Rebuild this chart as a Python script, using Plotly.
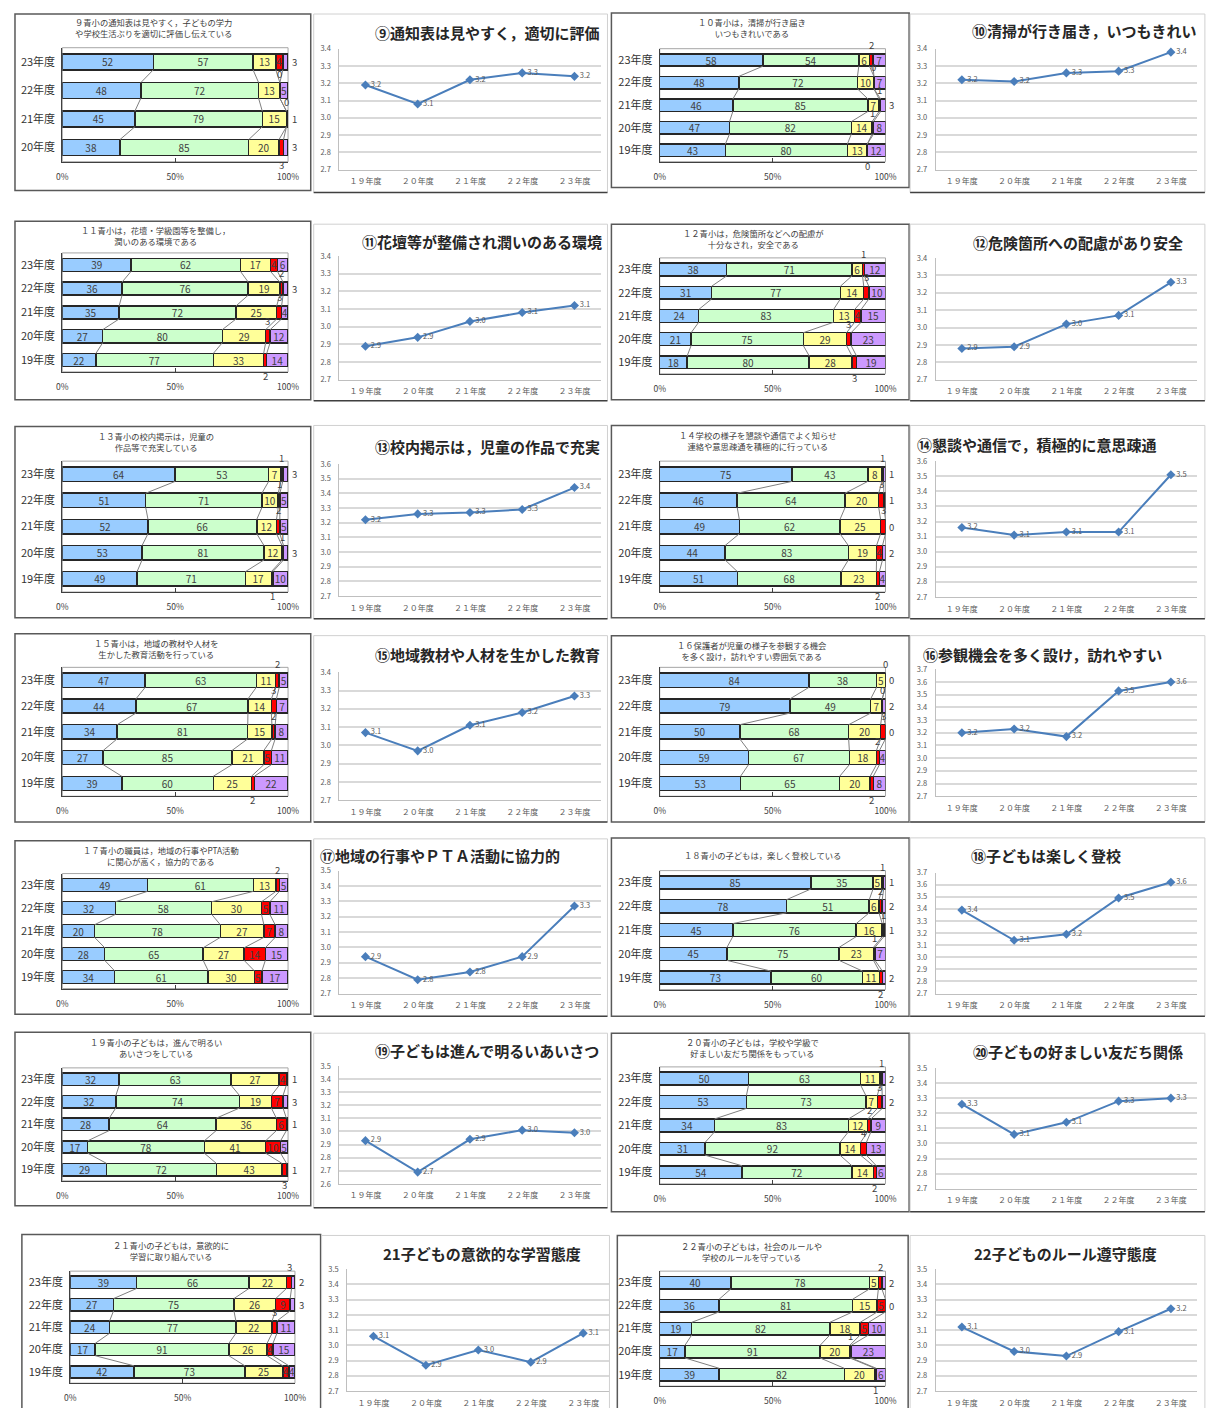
import plotly.graph_objects as go

# page body has a margin: the figure is drawn 1200x1400 and offset by 8px
PAGE_OFF = 8
W, H = 1200, 1400
FONT = "Noto Sans CJK JP"

YEARS = ["19年度", "20年度", "21年度", "22年度", "23年度"]
LINE_YEARS = ["１９年度", "２０年度", "２１年度", "２２年度", "２３年度"]
SEG_COLORS = ["#99CCFF", "#CCFFCC", "#FFFF99", "#FF0000", "#CC99FF"]

# ---- data: counts per year (bottom -> top), segments blue, green, yellow, red, purple ----
q09_years = ["20年度", "21年度", "22年度", "23年度"]
q09_counts = [[38, 85, 20, 3, 3], [45, 79, 15, 0, 1], [48, 72, 13, 0, 5], [52, 57, 13, 4, 3]]
q09_mean = [3.19, 3.08, 3.22, 3.26, 3.24]
q09_range = [2.7, 3.4]
q09_bar_title = "９青小の通知表は見やすく，子どもの学力<br>や学校生活ぶりを適切に評価し伝えている"
q09_line_title = "⑨通知表は見やすく，適切に評価"

q10_counts = [[43, 80, 13, 0, 12], [47, 82, 14, 1, 8], [46, 85, 7, 1, 3], [48, 72, 10, 0, 7], [58, 54, 6, 2, 7]]
q10_mean = [3.22, 3.21, 3.26, 3.27, 3.38]
q10_range = [2.7, 3.4]
q10_bar_title = "１０青小は，清掃が行き届き<br>いつもきれいである"
q10_line_title = "⑩清掃が行き届き，いつもきれい"

q11_counts = [[22, 77, 33, 2, 14], [27, 80, 29, 3, 12], [35, 72, 25, 3, 4], [36, 76, 19, 2, 3], [39, 62, 17, 4, 6]]
q11_mean = [2.89, 2.94, 3.03, 3.08, 3.12]
q11_range = [2.7, 3.4]
q11_bar_title = "１１青小は，花壇・学級園等を整備し，<br>潤いのある環境である"
q11_line_title = "⑪花壇等が整備され潤いのある環境"

q12_counts = [[18, 80, 28, 3, 19], [21, 75, 29, 3, 23], [24, 83, 13, 4, 15], [31, 77, 14, 3, 10], [38, 71, 6, 1, 12]]
q12_mean = [2.88, 2.89, 3.02, 3.07, 3.26]
q12_range = [2.7, 3.4]
q12_bar_title = "１２青小は，危険箇所などへの配慮が<br>十分なされ，安全である"
q12_line_title = "⑫危険箇所への配慮があり安全"

q13_counts = [[49, 71, 17, 1, 10], [53, 81, 12, 1, 3], [52, 66, 12, 2, 5], [51, 71, 10, 1, 5], [64, 53, 7, 1, 3]]
q13_mean = [3.22, 3.26, 3.27, 3.29, 3.44]
q13_range = [2.7, 3.6]
q13_bar_title = "１３青小の校内掲示は，児童の<br>作品等で充実している"
q13_line_title = "⑬校内掲示は，児童の作品で充実"

q14_counts = [[51, 68, 23, 2, 4], [44, 83, 19, 4, 2], [49, 62, 25, 3, 0], [46, 64, 20, 3, 1], [75, 43, 8, 1, 1]]
q14_mean = [3.16, 3.11, 3.13, 3.13, 3.51]
q14_range = [2.7, 3.6]
q14_bar_title = "１４学校の様子を懇談や通信でよく知らせ<br>連絡や意思疎通を積極的に行っている"
q14_line_title = "⑭懇談や通信で，積極的に意思疎通"

q15_counts = [[39, 60, 25, 2, 22], [27, 85, 21, 5, 11], [34, 81, 15, 2, 8], [44, 67, 14, 3, 7], [47, 63, 11, 2, 5]]
q15_mean = [3.07, 2.97, 3.11, 3.18, 3.27]
q15_range = [2.7, 3.4]
q15_bar_title = "１５青小は，地域の教材や人材を<br>生かした教育活動を行っている"
q15_line_title = "⑮地域教材や人材を生かした教育"

q16_counts = [[53, 65, 20, 2, 8], [59, 67, 18, 2, 4], [50, 68, 20, 3, 0], [79, 49, 7, 0, 2], [84, 38, 5, 0, 0]]
q16_mean = [3.20, 3.23, 3.17, 3.53, 3.60]
q16_range = [2.7, 3.7]
q16_bar_title = "１６保護者が児童の様子を参観する機会<br>を多く設け，訪れやすい雰囲気である"
q16_line_title = "⑯参観機会を多く設け，訪れやすい"

q17_counts = [[34, 61, 30, 5, 17], [28, 65, 27, 14, 15], [20, 78, 27, 7, 8], [32, 58, 30, 5, 11], [49, 61, 13, 2, 5]]
q17_mean = [2.94, 2.79, 2.84, 2.94, 3.27]
q17_range = [2.7, 3.5]
q17_bar_title = "１７青小の職員は，地域の行事やPTA活動<br>に関心が高く，協力的である"
q17_line_title = "⑰地域の行事やＰＴＡ活動に協力的"

q18_counts = [[73, 60, 11, 2, 2], [45, 75, 23, 1, 7], [45, 76, 16, 1, 1], [78, 51, 6, 2, 2], [85, 35, 5, 1, 1]]
q18_mean = [3.39, 3.14, 3.19, 3.49, 3.62]
q18_range = [2.7, 3.7]
q18_bar_title = "１８青小の子どもは，楽しく登校している"
q18_line_title = "⑱子どもは楽しく登校"

q19_counts = [[29, 72, 43, 3, 1], [17, 78, 41, 10, 5], [28, 64, 36, 6, 1], [32, 74, 19, 7, 3], [32, 63, 27, 4, 1]]
q19_mean = [2.93, 2.69, 2.94, 3.01, 2.99]
q19_range = [2.6, 3.5]
q19_bar_title = "１９青小の子どもは，進んで明るい<br>あいさつをしている"
q19_line_title = "⑲子どもは進んで明るいあいさつ"

q20_counts = [[54, 72, 14, 2, 6], [31, 92, 14, 4, 13], [34, 83, 12, 2, 9], [53, 73, 7, 3, 2], [50, 63, 11, 1, 2]]
q20_mean = [3.26, 3.06, 3.14, 3.28, 3.30]
q20_range = [2.7, 3.5]
q20_bar_title = "２０青小の子どもは，学校や学級で<br>好ましい友だち関係をもっている"
q20_line_title = "⑳子どもの好ましい友だち関係"

q21_counts = [[42, 73, 25, 4, 4], [17, 91, 26, 4, 15], [24, 77, 22, 3, 11], [27, 75, 26, 9, 3], [39, 66, 22, 3, 2]]
q21_mean = [3.06, 2.87, 2.97, 2.89, 3.08]
q21_range = [2.7, 3.5]
q21_bar_title = "２１青小の子どもは，意欲的に<br>学習に取り組んでいる"
q21_line_title = "21子どもの意欲的な学習態度"

q22_counts = [[39, 82, 20, 1, 6], [17, 91, 20, 1, 23], [19, 82, 18, 5, 10], [36, 81, 15, 5, 0], [40, 78, 5, 2, 2]]
q22_mean = [3.12, 2.96, 2.93, 3.09, 3.24]
q22_range = [2.7, 3.5]
q22_bar_title = "２２青小の子どもは，社会のルールや<br>学校のルールを守っている"
q22_line_title = "22子どものルール遵守態度"

ITEMS = [
    (q09_years, q09_counts, q09_mean, q09_range, q09_bar_title, q09_line_title),
    (YEARS, q10_counts, q10_mean, q10_range, q10_bar_title, q10_line_title),
    (YEARS, q11_counts, q11_mean, q11_range, q11_bar_title, q11_line_title),
    (YEARS, q12_counts, q12_mean, q12_range, q12_bar_title, q12_line_title),
    (YEARS, q13_counts, q13_mean, q13_range, q13_bar_title, q13_line_title),
    (YEARS, q14_counts, q14_mean, q14_range, q14_bar_title, q14_line_title),
    (YEARS, q15_counts, q15_mean, q15_range, q15_bar_title, q15_line_title),
    (YEARS, q16_counts, q16_mean, q16_range, q16_bar_title, q16_line_title),
    (YEARS, q17_counts, q17_mean, q17_range, q17_bar_title, q17_line_title),
    (YEARS, q18_counts, q18_mean, q18_range, q18_bar_title, q18_line_title),
    (YEARS, q19_counts, q19_mean, q19_range, q19_bar_title, q19_line_title),
    (YEARS, q20_counts, q20_mean, q20_range, q20_bar_title, q20_line_title),
    (YEARS, q21_counts, q21_mean, q21_range, q21_bar_title, q21_line_title),
    (YEARS, q22_counts, q22_mean, q22_range, q22_bar_title, q22_line_title),
]

# ---- layout geometry in page pixels ----
GEOM = [
    dict(bb=(9, 8, 309, 186), bp=(57, 42, 286, 157), bt=(150, 22), lb=(312, 8, 610, 188), lp=(338, 43, 603, 165), lt=(488, 27)),
    dict(bb=(614, 7, 916, 183), bp=(663, 43, 892, 157), bt=(757, 22), lb=(917, 8, 1216, 188), lp=(943, 43, 1208, 165), lt=(1094, 25)),
    dict(bb=(9, 217, 309, 397), bp=(57, 249, 286, 369), bt=(152, 231), lb=(312, 220, 610, 398), lp=(338, 252, 603, 377), lt=(483, 237)),
    dict(bb=(614, 220, 916, 397), bp=(663, 254, 892, 371), bt=(758, 234), lb=(917, 220, 1216, 398), lp=(943, 254, 1208, 377), lt=(1087, 238)),
    dict(bb=(9, 424, 309, 617), bp=(57, 459, 286, 591), bt=(152, 439), lb=(312, 423, 610, 618), lp=(338, 462, 603, 595), lt=(488, 444)),
    dict(bb=(614, 423, 916, 617), bp=(663, 459, 892, 591), bt=(762, 438), lb=(917, 423, 1216, 618), lp=(943, 459, 1208, 596), lt=(1045, 442)),
    dict(bb=(9, 633, 309, 823), bp=(57, 667, 286, 797), bt=(152, 648), lb=(312, 635, 610, 823), lp=(338, 672, 603, 801), lt=(488, 654)),
    dict(bb=(614, 635, 916, 823), bp=(663, 667, 892, 797), bt=(757, 650), lb=(917, 635, 1216, 823), lp=(943, 669, 1208, 797), lt=(1051, 654)),
    dict(bb=(9, 842, 309, 1017), bp=(57, 875, 286, 991), bt=(157, 857), lb=(312, 840, 610, 1019), lp=(338, 872, 603, 996), lt=(440, 857)),
    dict(bb=(614, 839, 916, 1019), bp=(663, 872, 892, 992), bt=(767, 856), lb=(917, 839, 1216, 1019), lp=(943, 874, 1208, 996), lt=(1055, 857)),
    dict(bb=(9, 1035, 309, 1210), bp=(57, 1071, 286, 1185), bt=(152, 1050), lb=(312, 1036, 610, 1212), lp=(338, 1069, 603, 1188), lt=(488, 1053)),
    dict(bb=(614, 1036, 916, 1216), bp=(663, 1070, 892, 1188), bt=(757, 1050), lb=(917, 1036, 1216, 1216), lp=(943, 1071, 1208, 1193), lt=(1087, 1054)),
    dict(bb=(16, 1239, 319, 1420), bp=(65, 1276, 293, 1389), bt=(167, 1255), lb=(320, 1240, 612, 1420), lp=(346, 1274, 612, 1397), lt=(483, 1258)),
    dict(bb=(620, 1240, 915, 1420), bp=(663, 1276, 892, 1392), bt=(756, 1256), lb=(917, 1240, 1216, 1420), lp=(943, 1274, 1208, 1397), lt=(1075, 1258)),
]


def fx(x):
    return (x - PAGE_OFF) / W


def fy(y):
    return 1 - (y - PAGE_OFF) / H


def dom(a, b):
    return [max(0.0, min(1.0, a)), max(0.0, min(1.0, b))]


def sfx(i):
    return "" if i == 1 else str(i)


fig = go.Figure()
layout = {}
shapes = []
annotations = []
BW = 0.55
TXT = "#404040"

for k, (years, counts, mean, yr, btitle, ltitle) in enumerate(ITEMS):
    g = GEOM[k]
    bi, li = 2 * k + 1, 2 * k + 2
    xb, yb = "x" + sfx(bi), "y" + sfx(bi)
    xl, yl = "x" + sfx(li), "y" + sfx(li)
    n = len(years)
    ypos = list(range(n))
    totals = [sum(c) for c in counts]
    pct = [[v * 100.0 / t for v in c] for c, t in zip(counts, totals)]

    # stacked 100% bars
    for j in range(5):
        xs = [p[j] for p in pct]
        texts = [str(c[j]) if p[j] >= 2.6 else "" for c, p in zip(counts, pct)]
        fig.add_trace(go.Bar(
            x=xs, y=ypos, orientation="h", width=BW,
            marker=dict(color=SEG_COLORS[j], line=dict(color="#262626", width=1.5)),
            text=texts, textposition="inside", insidetextanchor="middle",
            constraintext="none", textangle=0,
            textfont=dict(size=10, color=TXT, family=FONT),
            xaxis=xb, yaxis=yb, showlegend=False, hoverinfo="skip"))

    # series lines between segment boundaries of adjacent bars
    cum = []
    for p in pct:
        s, row = 0.0, []
        for v in p[:4]:
            s += v
            row.append(s)
        cum.append(row)
    lx, ly = [], []
    for b in range(4):
        for i in range(n - 1, 0, -1):
            lx += [cum[i][b], cum[i - 1][b], None]
            ly += [i - BW / 2, i - 1 + BW / 2, None]
    fig.add_trace(go.Scatter(x=lx, y=ly, mode="lines", line=dict(color="#808080", width=1),
                             xaxis=xb, yaxis=yb, showlegend=False, hoverinfo="skip"))

    # small-value labels outside the bars
    for i in range(n):
        start = 0.0
        for j in range(5):
            v = pct[i][j]
            if v < 2.6:
                if j == 4:
                    annotations.append(dict(x=100, y=i, xref=xb, yref=yb, text=str(counts[i][j]),
                                            showarrow=False, xanchor="left", xshift=2,
                                            font=dict(size=9.5, color=TXT, family=FONT)))
                else:
                    if i == 0:
                        yy, ya = i - BW / 2 - 0.02, "top"
                    else:
                        yy, ya = i + BW / 2, "bottom"
                    annotations.append(dict(x=start + v / 2, y=yy, xref=xb, yref=yb, text=str(counts[i][j]),
                                            showarrow=False, xanchor="center", yanchor=ya,
                                            font=dict(size=9.5, color=TXT, family=FONT)))
            start += v

    bp = g["bp"]
    layout["xaxis" + sfx(bi)] = dict(
        domain=dom(fx(bp[0]), fx(bp[2])), anchor=yb, range=[0, 100],
        tickvals=[0, 50, 100], ticktext=["0%", "50%", "100%"],
        ticks="inside", ticklen=4, tickcolor="#404040",
        showline=True, linecolor="#404040", linewidth=1, showgrid=False, zeroline=False,
        tickfont=dict(size=8.5, color=TXT, family=FONT), ticklabelstandoff=7, fixedrange=True)
    layout["yaxis" + sfx(bi)] = dict(
        domain=dom(fy(bp[3]), fy(bp[1])), anchor=xb, range=[-0.5, n - 0.5],
        tickvals=ypos, ticktext=years, showline=True, linecolor="#404040", linewidth=1,
        showgrid=False, zeroline=False, ticks="",
        tickfont=dict(size=11, color="#333333", family=FONT), ticklabelstandoff=4, fixedrange=True)
    shapes.append(dict(type="rect", xref="paper", yref="paper",
                       x0=fx(bp[0]), x1=fx(bp[2]), y0=fy(bp[3]), y1=fy(bp[1]),
                       line=dict(color="#A6A6A6", width=1), layer="below"))
    bb = g["bb"]
    shapes.append(dict(type="rect", xref="paper", yref="paper",
                       x0=fx(bb[0]), x1=fx(bb[2]), y0=fy(bb[3]), y1=fy(bb[1]),
                       line=dict(color="#595959", width=1.5)))
    annotations.append(dict(x=fx(g["bt"][0]), y=fy(g["bt"][1]), xref="paper", yref="paper",
                            text=btitle, showarrow=False, xanchor="center", yanchor="middle",
                            font=dict(size=8.3, color=TXT, family=FONT)))

    # line chart of mean scores
    lp = g["lp"]
    fig.add_trace(go.Scatter(
        x=LINE_YEARS, y=mean, mode="lines+markers+text",
        line=dict(color="#4A7EBB", width=2),
        marker=dict(symbol="diamond", size=7, color="#4A7EBB"),
        text=[f"{v:.1f}" for v in mean], textposition="middle right",
        textfont=dict(size=7.5, color="#595959", family=FONT),
        xaxis=xl, yaxis=yl, showlegend=False, hoverinfo="skip", cliponaxis=False))
    layout["xaxis" + sfx(li)] = dict(
        domain=dom(fx(lp[0]), fx(lp[2])), anchor=yl, type="category", range=[-0.5, 4.5],
        showline=True, linecolor="#BFBFBF", linewidth=1, showgrid=False, zeroline=False, ticks="",
        tickfont=dict(size=8, color="#595959", family=FONT), ticklabelstandoff=4, fixedrange=True)
    layout["yaxis" + sfx(li)] = dict(
        domain=dom(fy(lp[3]), fy(lp[1])), anchor=xl, range=yr, dtick=0.1, tick0=yr[0],
        tickformat=".1f", showline=True, linecolor="#BFBFBF", linewidth=1,
        showgrid=True, gridcolor="#D9D9D9", gridwidth=1.5, zeroline=False, ticks="",
        tickfont=dict(size=7.5, color="#595959", family=FONT), ticklabelstandoff=6, fixedrange=True)
    lb = g["lb"]
    shapes.append(dict(type="rect", xref="paper", yref="paper",
                       x0=fx(lb[0]), x1=fx(lb[2]), y0=fy(lb[3]), y1=fy(lb[1]),
                       line=dict(color="#D0D0D0", width=1)))
    shapes.append(dict(type="line", xref="paper", yref="paper",
                       x0=fx(lb[0]), x1=fx(lb[2]), y0=fy(lb[3]), y1=fy(lb[3]),
                       line=dict(color="#404040", width=1.5)))
    annotations.append(dict(x=fx(g["lt"][0]), y=fy(g["lt"][1]), xref="paper", yref="paper",
                            text="<b>" + ltitle + "</b>", showarrow=False, xanchor="center", yanchor="middle",
                            font=dict(size=15, color="#262626", family=FONT)))

fig.update_layout(
    width=W, height=H, margin=dict(l=0, r=0, t=0, b=0),
    paper_bgcolor="white", plot_bgcolor="white",
    barmode="stack", showlegend=False,
    font=dict(family=FONT, color=TXT),
    shapes=shapes, annotations=annotations,
    **layout)

fig.write_html("out.html")
